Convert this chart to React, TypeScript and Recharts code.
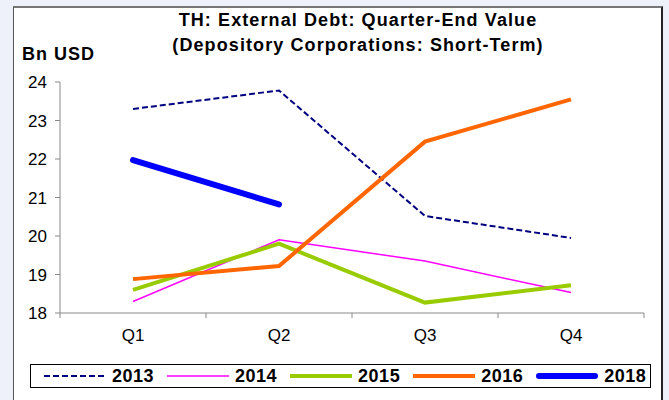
import React from 'react';
import { LineChart, Line, XAxis, YAxis } from 'recharts';

const quarters = ['Q1', 'Q2', 'Q3', 'Q4'];
const debt2013 = [23.3, 23.78, 20.52, 19.95];
const debt2014 = [18.3, 19.9, 19.35, 18.53];
const debt2015 = [18.6, 19.8, 18.27, 18.72];
const debt2016 = [18.88, 19.22, 22.45, 23.55];
const debt2018 = [21.97, 20.82];
const yTicks = [18, 19, 20, 21, 22, 23, 24];

const series = [
    { key: 'y2013', name: '2013', values: debt2013, color: '#000080', width: 2, dash: '6 3' },
    { key: 'y2014', name: '2014', values: debt2014, color: '#ff00ff', width: 1.5, dash: undefined },
    { key: 'y2015', name: '2015', values: debt2015, color: '#99cc00', width: 4, dash: undefined },
    { key: 'y2016', name: '2016', values: debt2016, color: '#ff6600', width: 4, dash: undefined },
    { key: 'y2018', name: '2018', values: debt2018, color: '#0000ff', width: 6, dash: undefined },
];

const data = quarters.map((q, i) => {
    const row: Record<string, any> = { quarter: q };
    series.forEach((s) => {
        row[s.key] = i < s.values.length ? s.values[i] : null;
    });
    return row;
});

const FONT = '"Liberation Sans", Arial, sans-serif';
const HALF_BAND = 73;
const AXIS_Y = 313;

// category label plus tick marks on the band edges
const QuarterTick = (props: any) => {
    const { x, payload } = props;
    const isLast = payload.value === quarters[quarters.length - 1];
    return (
        <g>
            <line x1={x - HALF_BAND} y1={AXIS_Y} x2={x - HALF_BAND} y2={AXIS_Y + 5} stroke="#888" />
            {isLast && <line x1={x + HALF_BAND} y1={AXIS_Y} x2={x + HALF_BAND} y2={AXIS_Y + 5} stroke="#888" />}
            <text x={x} y={AXIS_Y + 28} textAnchor="middle" fontSize={17} fill="#000" fontFamily={FONT}>
                {payload.value}
            </text>
        </g>
    );
};

const App: React.FC = () => {
    return (
        <div style={{ position: 'absolute', left: 0, top: 0, width: 669, height: 400, background: '#eef0fa', overflow: 'hidden', fontFamily: FONT }}>
            <div
                style={{
                    position: 'absolute',
                    left: 13,
                    top: 6,
                    width: 647,
                    height: 420,
                    background: '#fff',
                    borderTop: '2px solid #777',
                    borderLeft: '1px solid #555',
                    borderRight: '2px solid #222',
                }}
            />
            <div style={{ position: 'absolute', left: 0, top: 0 }}>
                <LineChart width={669} height={400} data={data} margin={{ top: 82, right: 25, bottom: 57, left: 20 }}>
                    <XAxis
                        dataKey="quarter"
                        axisLine={{ stroke: '#888' }}
                        tickLine={false}
                        tick={<QuarterTick />}
                        height={30}
                        interval={0}
                        padding={{ left: HALF_BAND, right: HALF_BAND }}
                    />
                    <YAxis
                        domain={[18, 24]}
                        ticks={yTicks}
                        width={40}
                        axisLine={{ stroke: '#888' }}
                        tickLine={{ stroke: '#888' }}
                        tickSize={5}
                        tickMargin={8}
                        tick={{ fontSize: 17, fill: '#000', fontFamily: FONT }}
                        allowDataOverflow
                    />
                    {series.map((s) => (
                        <Line
                            key={s.key}
                            dataKey={s.key}
                            name={s.name}
                            stroke={s.color}
                            strokeWidth={s.width}
                            strokeDasharray={s.dash}
                            strokeLinecap={s.key === 'y2018' ? 'round' : 'butt'}
                            dot={false}
                            activeDot={false}
                            isAnimationActive={false}
                        />
                    ))}
                </LineChart>
            </div>
            <div style={{ position: 'absolute', left: 0, width: 716, top: 8, textAlign: 'center', fontWeight: 'bold', fontSize: 18, letterSpacing: '1.1px', lineHeight: '25px', color: '#000' }}>
                <div>TH: External Debt: Quarter-End Value</div>
                <div>(Depository Corporations: Short-Term)</div>
            </div>
            <div style={{ position: 'absolute', left: 22, top: 44, fontWeight: 'bold', fontSize: 18, letterSpacing: '1px', color: '#000' }}>Bn USD</div>
            <div
                style={{
                    position: 'absolute',
                    left: 30,
                    top: 364,
                    width: 621,
                    height: 24,
                    border: '1px solid #000',
                    display: 'flex',
                    alignItems: 'center',
                    paddingLeft: 13,
                    boxSizing: 'border-box',
                    background: '#fff',
                }}
            >
                {series.map((s) => (
                    <div key={s.key} style={{ display: 'flex', alignItems: 'center', marginRight: 13 }}>
                        <svg width={62} height={10}>
                            <line
                                x1={s.key === 'y2018' ? 3 : 0}
                                y1={5}
                                x2={s.key === 'y2018' ? 59 : 62}
                                y2={5}
                                stroke={s.color}
                                strokeWidth={s.width}
                                strokeDasharray={s.dash}
                                strokeLinecap={s.key === 'y2018' ? 'round' : 'butt'}
                            />
                        </svg>
                        <span style={{ marginLeft: 6, fontWeight: 'bold', fontSize: 18, letterSpacing: '0.5px', color: '#000' }}>{s.name}</span>
                    </div>
                ))}
            </div>
        </div>
    );
};

export default App;
